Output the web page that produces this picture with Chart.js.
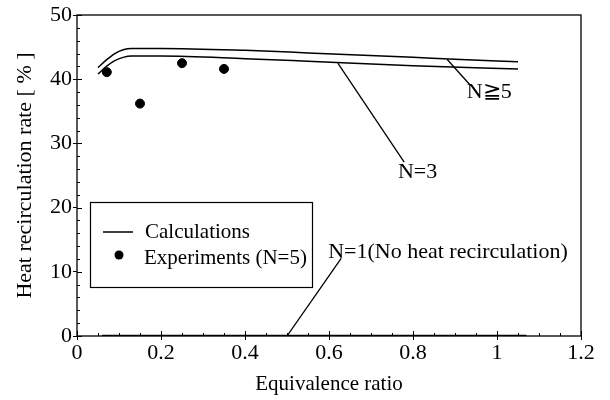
<!DOCTYPE html>
<html>
<head>
<meta charset="utf-8">
<script src="https://cdn.jsdelivr.net/npm/chart.js@4.4.1/dist/chart.umd.min.js"></script>
<style>
  html, body { margin:0; padding:0; background:#fff; }
  #wrap { width:610px; height:400px; position:relative; }
</style>
</head>
<body>
<div id="wrap"><canvas id="c"></canvas></div>
<script>
/* ── data ── */
const phiN5   = [0.05, 0.07, 0.09, 0.11, 0.13, 0.2, 0.4, 0.55, 0.8, 0.9, 1.05];
const rateN5  = [41.8, 43.0, 44.0, 44.6, 44.8, 44.8, 44.5, 44.1, 43.4, 43.1, 42.7];
const phiN3   = [0.05, 0.07, 0.09, 0.11, 0.13, 0.2, 0.4, 0.55, 0.8, 1.05];
const rateN3  = [40.8, 42.0, 42.9, 43.4, 43.6, 43.6, 43.2, 42.8, 42.1, 41.6];
const phiN1   = [0.06, 1.07];
const rateN1  = [0, 0];
const expPhi  = [0.071, 0.15, 0.25, 0.35];
const expRate = [41.1, 36.2, 42.5, 41.6];

const xTicks = [0, 0.2, 0.4, 0.6, 0.8, 1, 1.2];
const yTicks = [0, 10, 20, 30, 40, 50];

// annotation leaders: [x0,y0,x1,y1] and label anchors
const notes = [
  { text:'N\u22675', line:[0.881, 43.1, 0.936, 39.1], at:[0.928, 37.9] },
  { text:'N=3',      line:[0.621, 42.5, 0.779, 27.1], at:[0.764, 25.5] },
  { text:'N=1(No heat recirculation)', line:[0.50, 0, 0.629, 12.1], at:[0.598, 13.1] },
];

const FONT = '"Liberation Serif", "DejaVu Serif", serif';
const pts = (xs, ys) => xs.map((x, i) => ({ x, y: ys[i] }));

const lineSet = (data, w) => ({
  data, showLine:true, borderColor:'#000', borderWidth:w,
  pointRadius:0, tension:0.3, cubicInterpolationMode:'monotone',
});

const datasets = [
  lineSet(pts(phiN5, rateN5), 1.5),
  lineSet(pts(phiN3, rateN3), 1.5),
  lineSet(pts(phiN1, rateN1), 2.5),
  { data: pts(expPhi, expRate), showLine:false, pointRadius:4.5,
    backgroundColor:'#000', borderColor:'#000' },
  ...notes.map(n => ({
    data:[{ x:n.line[0], y:n.line[1] }, { x:n.line[2], y:n.line[3] }],
    showLine:true, borderColor:'#000', borderWidth:1.3, pointRadius:0, tension:0,
  })),
];

/* ── frame, inner ticks, legend, labels ── */
const decor = {
  id:'decor',
  afterDraw(chart) {
    const { ctx, chartArea:a, scales:{ x, y } } = chart;
    ctx.save();
    ctx.strokeStyle = '#000';
    ctx.lineWidth = 1.3;
    ctx.strokeRect(a.left, a.top, a.right - a.left, a.bottom - a.top);

    ctx.lineWidth = 1;
    ctx.beginPath();
    for (let v = 0; v <= 1.2001; v += 0.05) {
      const px = Math.round(x.getPixelForValue(v)) + 0.5;
      const major = Math.abs(v * 5 - Math.round(v * 5)) < 1e-6;
      ctx.moveTo(px, a.bottom); ctx.lineTo(px, a.bottom - (major ? 5 : 3));
    }
    for (let v = 0; v <= 50; v += 2) {
      const py = Math.round(y.getPixelForValue(v)) + 0.5;
      const major = v % 10 === 0;
      ctx.moveTo(a.left, py); ctx.lineTo(a.left + (major ? 5 : 3), py);
    }
    ctx.stroke();

    // annotation texts
    ctx.fillStyle = '#000';
    ctx.font = '22px ' + FONT;
    ctx.textBaseline = 'middle';
    ctx.textAlign = 'left';
    notes.forEach(n => {
      ctx.fillText(n.text, x.getPixelForValue(n.at[0]), y.getPixelForValue(n.at[1]));
    });

    // legend box
    ctx.lineWidth = 1.2;
    ctx.strokeRect(90.5, 202.5, 222, 85);
    ctx.lineWidth = 1.5;
    ctx.beginPath(); ctx.moveTo(103, 232); ctx.lineTo(133, 232); ctx.stroke();
    ctx.beginPath(); ctx.arc(119, 255, 4.5, 0, Math.PI * 2); ctx.fill();
    ctx.font = '21px ' + FONT;
    ctx.fillText('Calculations', 145, 232);
    ctx.fillText('Experiments (N=5)', 144, 258);
    ctx.restore();
  },
};

new Chart(document.getElementById('c'), {
  type:'scatter',
  data:{ datasets },
  options:{
    responsive:true, maintainAspectRatio:false, animation:false,
    layout:{ padding:{ top:15, right:29, left:0, bottom:0 } },
    plugins:{ legend:{ display:false }, tooltip:{ enabled:false } },
    scales:{
      x:{
        type:'linear', min:0, max:1.2,
        afterBuildTicks: s => { s.ticks = xTicks.map(v => ({ value:v })); },
        afterFit: s => { s.height = 64; },
        grid:{ drawOnChartArea:false, drawTicks:true, tickLength:4, color:'#000' },
        border:{ display:false },
        ticks:{ color:'#000', font:{ family:FONT, size:22 }, padding:0,
                maxRotation:0, callback: v => String(v) },
        title:{ display:true, text:'Equivalence ratio', color:'#000',
                font:{ family:FONT, size:21 }, padding:{ top:0, bottom:3 } },
      },
      y:{
        min:0, max:50,
        afterBuildTicks: s => { s.ticks = yTicks.map(v => ({ value:v })); },
        afterFit: s => { s.width = 77; },
        grid:{ drawOnChartArea:false, drawTicks:true, tickLength:4, color:'#000' },
        border:{ display:false },
        ticks:{ color:'#000', font:{ family:FONT, size:22 }, padding:1 },
        title:{ display:true, text:'Heat recirculation rate [ % ]', color:'#000',
                font:{ family:FONT, size:22 }, padding:{ top:12, bottom:0 } },
      },
    },
  },
  plugins:[decor],
});
</script>
</body>
</html>
